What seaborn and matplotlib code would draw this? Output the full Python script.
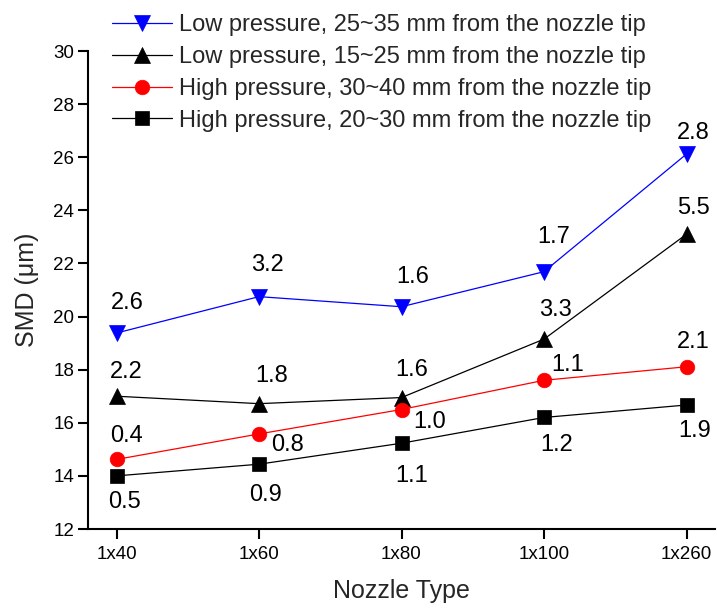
import matplotlib
matplotlib.use("Agg")
import matplotlib.pyplot as plt
import seaborn as sns
import pandas as pd

sns.set_theme(style="ticks")
plt.rcParams["font.family"] = ["Liberation Sans", "DejaVu Sans"]

# Nozzle types on the x axis
nozzles = ["1x40", "1x60", "1x80", "1x100", "1x260"]

# Mean SMD (um) for each condition
smd_low_25_35 = [19.38, 20.75, 20.37, 21.69, 26.12]
smd_low_15_25 = [17.0, 16.72, 16.95, 19.15, 23.1]
smd_high_30_40 = [14.62, 15.58, 16.5, 17.6, 18.11]
smd_high_20_30 = [14.0, 14.44, 15.23, 16.2, 16.67]

# Value labels printed beside each point
lbl_low_25_35 = ["2.6", "3.2", "1.6", "1.7", "2.8"]
lbl_low_15_25 = ["2.2", "1.8", "1.6", "3.3", "5.5"]
lbl_high_30_40 = ["0.4", "0.8", "1.0", "1.1", "2.1"]
lbl_high_20_30 = ["0.5", "0.9", "1.1", "1.2", "1.9"]

series_names = [
    "Low pressure, 25~35 mm from the nozzle tip",
    "Low pressure, 15~25 mm from the nozzle tip",
    "High pressure, 30~40 mm from the nozzle tip",
    "High pressure, 20~30 mm from the nozzle tip",
]

# label placement (pixel offsets from the point: right, up)
off_low_25_35 = [(11, 30), (8, 32), (11, 30), (10, 35), (7, 21)]
off_low_15_25 = [(10, 24), (13, 28), (10, 28), (11, 29), (7, 26)]
off_high_30_40 = [(10, 23), (28, -11), (28, -13), (24, 15), (7, 25)]
off_high_20_30 = [(8, -26), (6, -31), (10, -33), (13, -28), (8, -26)]

styles = [
    dict(color="#0000ff", marker="v", markersize=11.5),
    dict(color="black", marker="^", markersize=11.5),
    dict(color="#ff0000", marker="o", markersize=10.5),
    dict(color="black", marker="s", markersize=10),
]

all_values = [smd_low_25_35, smd_low_15_25, smd_high_30_40, smd_high_20_30]
all_labels = [lbl_low_25_35, lbl_low_15_25, lbl_high_30_40, lbl_high_20_30]
all_offsets = [off_low_25_35, off_low_15_25, off_high_30_40, off_high_20_30]

fig = plt.figure(figsize=(7.17, 6.08), dpi=100)
ax = fig.add_axes([88 / 717, 1 - 529 / 608, (715 - 88) / 717, (529 - 51) / 608])

for name, vals, st in zip(series_names, all_values, styles):
    df = pd.DataFrame({"Nozzle": nozzles, "SMD": vals})
    sns.lineplot(data=df, x="Nozzle", y="SMD", ax=ax, label=name,
                 color=st["color"], marker=st["marker"],
                 markersize=st["markersize"], markeredgewidth=0.5,
                 markeredgecolor=st["color"], linewidth=0.9, sort=False)

for vals, labels, offs in zip(all_values, all_labels, all_offsets):
    for i, (v, t, (dx, dy)) in enumerate(zip(vals, labels, offs)):
        ax.annotate(t, xy=(i, v), xytext=(dx, dy), textcoords="offset pixels",
                    ha="center", va="center", fontsize=17, color="black")

ax.set_xlim(-0.2, 4.2)
ax.set_ylim(12, 30)
ax.set_yticks(range(12, 31, 2))
ax.set_xlabel("Nozzle Type", fontsize=18, labelpad=12)
ax.set_ylabel("SMD (\u03bcm)", fontsize=18, labelpad=10)
ax.tick_params(axis="both", direction="out", length=7, width=1.5,
               labelsize=13.5, color="black", labelcolor="black")
ax.tick_params(axis="x", pad=5)
ax.tick_params(axis="y", pad=3)
for side in ["left", "bottom"]:
    ax.spines[side].set_linewidth(1.5)
    ax.spines[side].set_color("black")
sns.despine(ax=ax)

leg = ax.legend(loc="upper left", bbox_to_anchor=(112 / 717, 1 - 14 / 608),
                bbox_transform=fig.transFigure, frameon=False, fontsize=17,
                handlelength=2.55, handletextpad=0.3, labelspacing=0.42,
                borderaxespad=0, borderpad=0)

fig.savefig("out.png", dpi=100)
